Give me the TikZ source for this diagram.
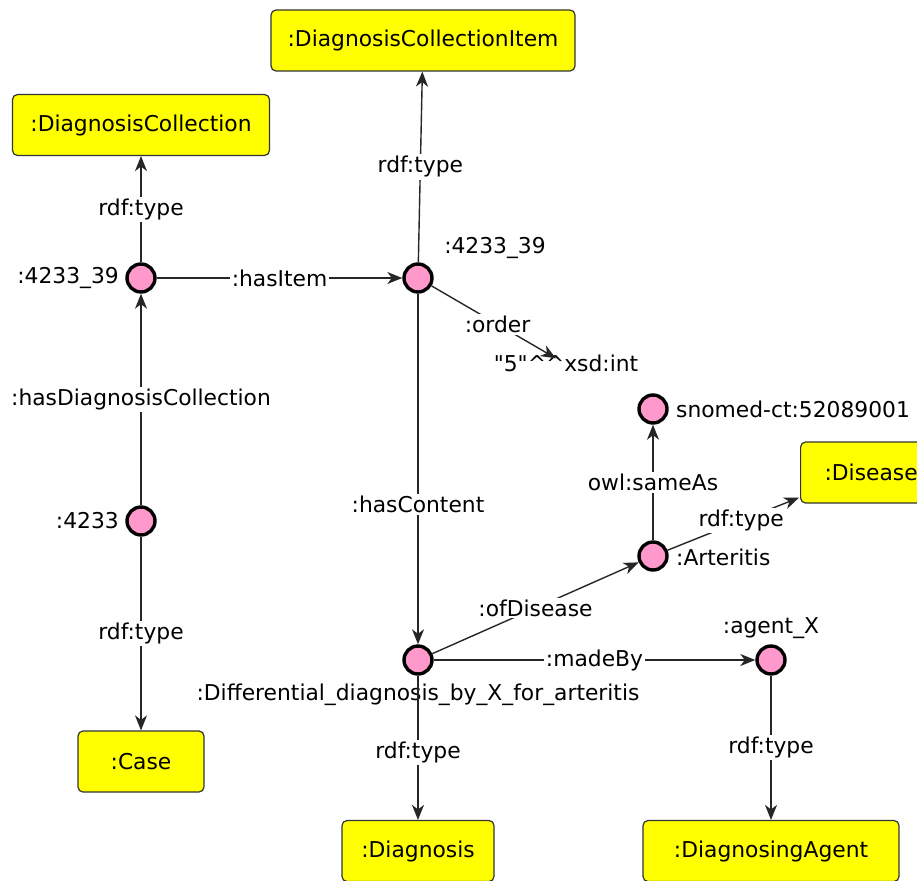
\documentclass[tikz,border=0pt]{standalone}
\usepackage{fontspec}
\setmainfont{DejaVu Sans}
\newfontfamily\plainfont{DejaVu Sans}
\usetikzlibrary{arrows.meta,calc}
\definecolor{pinkfill}{HTML}{FF99CC}
\definecolor{boxfill}{HTML}{FFFF00}
\definecolor{boxline}{HTML}{333333}
\begin{document}
\begin{tikzpicture}[x=1pt,y=-1pt,
  every node/.style={font=\fontsize{21.8}{26}\selectfont},
  res/.style={circle,draw=black,line width=3.4pt,fill=pinkfill,minimum size=28pt,inner sep=0pt,outer sep=1.7pt},
  cls/.style={draw=boxline,line width=1.2pt,fill=boxfill,rounded corners=5pt,minimum height=61pt,inner sep=0pt},
  lbl/.style={fill=white,inner sep=2pt},
  txt/.style={inner sep=1pt},
  conn/.style={draw=black!85,line width=1.4pt},
  arr/.style={conn,-{Stealth[length=15pt,width=12pt,inset=4.5pt]}}]
\useasboundingbox (0,0) rectangle (917,880);
\clip (0,0) rectangle (917,880);

% class boxes
\node[cls,minimum width=304pt] (dci) at (423,40.5) {:DiagnosisCollectionItem};
\node[cls,minimum width=257pt] (dc) at (141,125) {:DiagnosisCollection};
\node[cls,minimum width=126pt] (case) at (141,761.5) {:Case};
\node[cls,minimum width=152pt] (diag) at (418,851) {:Diagnosis};
\node[cls,minimum width=256pt] (dagent) at (771,851) {:DiagnosingAgent};
\node[cls,minimum width=130pt,anchor=west,text width=118pt,align=left] (dis) at (800,472.5) {\hspace*{18pt}:Disease};

% resources
\node[res] (coll) at (141,278) {};
\node[res] (item) at (418,278) {};
\node[res] (case4233) at (141,521) {};
\node[res] (snomed) at (653,409) {};
\node[res] (art) at (653,556) {};
\node[res] (dd) at (418,660) {};
\node[res] (agent) at (771,660) {};

% resource labels
\node[txt,anchor=east] (collL) at (120,278) {:4233\_39};
\node[txt] (itemL) at (495,248) {:4233\_39};
\node[txt,anchor=east] (caseL) at (120,521) {:4233};
\node[txt,anchor=west] (snomedL) at (675,409) {snomed-ct:52089001};
\node[txt,anchor=west] (artL) at (675,557) {:Arteritis};
\node[txt] (agentL) at (771,628) {:agent\_X};
\node[txt] (lit) at (566,363) {\plainfont "5"\textasciicircum\textasciicircum xsd:int};

% edges
\path[arr] (coll) -- node[lbl] {rdf:type} (dc);
\path[arr] (case4233) -- node[lbl] {:hasDiagnosisCollection} (coll);
\path[arr] (case4233) -- node[lbl,pos=0.5] {rdf:type} (case);
\path[arr] (coll) -- node[lbl] {:hasItem} (item);
\path[arr] (item) -- node[lbl] {rdf:type} (dci);
\path[arr] (item) -- node[lbl,pos=0.53] {:order} ($(lit.north)+(-10,5)$);
\path[arr] (item) -- node[lbl,pos=0.6] {:hasContent} (dd);
\path[arr] (dd) -- node[lbl] {:ofDisease} (art);
\path[arr] (art) -- node[lbl] {owl:sameAs} (snomed);
\path[arr] (art) -- node[lbl,pos=0.56] {rdf:type} ($(dis.south west)+(-1,-6)$);
\path[arr] (dd) -- node[lbl,pos=0.5] {:madeBy} (agent);
\path[arr] (agent) -- node[lbl,pos=0.5] {rdf:type} (dagent);
\node[txt] (ddL) at (418,695) {:Differential\_diagnosis\_by\_X\_for\_arteritis};
\path[arr] (dd) -- node[lbl,pos=0.53] {rdf:type} (diag);
\end{tikzpicture}
\end{document}
